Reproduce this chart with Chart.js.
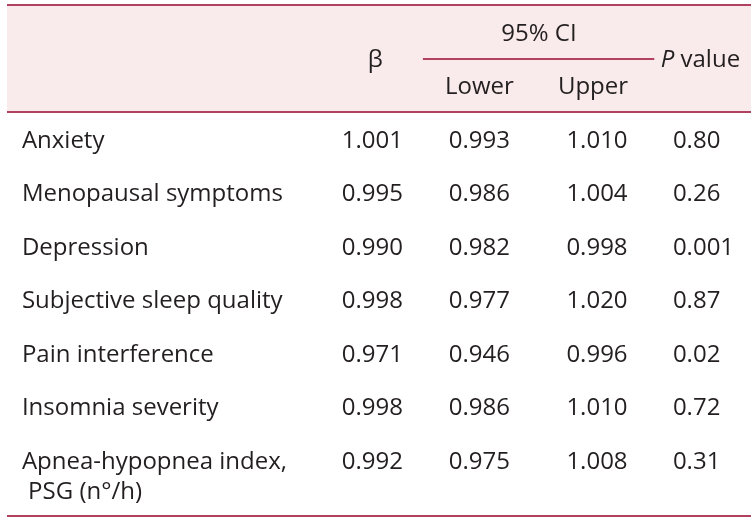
<!DOCTYPE html>
<html lang="en">
<head>
    <meta charset="UTF-8">
    <title>Beta and 95% CI table</title>
    <script src="https://cdn.jsdelivr.net/npm/chart.js"></script>
    <style>
        html, body { margin: 0; padding: 0; background: #fff; }
        #wrap { width: 756px; height: 520px; }
    </style>
</head>
<body>
    <div id="wrap"><canvas id="tableChart" width="756" height="520"></canvas></div>

    <script>
        // table content
        const rowLabels = ['Anxiety', 'Menopausal symptoms', 'Depression', 'Subjective sleep quality',
                           'Pain interference', 'Insomnia severity', 'Apnea-hypopnea index,\n PSG (n\u00b0/h)'];
        const beta  = [1.001, 0.995, 0.990, 0.998, 0.971, 0.998, 0.992];
        const lower = [0.993, 0.986, 0.982, 0.977, 0.946, 0.986, 0.975];
        const upper = [1.010, 1.004, 0.998, 1.020, 0.996, 1.010, 1.008];
        const pValues = ['0.80', '0.26', '0.001', '0.87', '0.02', '0.72', '0.31'];
        const headers = ['\u03b2', '95% CI', 'Lower', 'Upper', 'value'];

        // column anchors on a 0..1 x scale
        const col = { label: 0.020, beta: 0.491, lower: 0.635, upper: 0.793, p: 0.895, ci: 0.715, pHead: 0.932 };
        const TEXT = '#231f20';
        const RULE = '#b0415f';
        const FONT = '"Open Sans", "Noto Sans", sans-serif';
        const SIZE = 24;
        const DY = 2;

        function cellSet(name, values, x, align, fmt) {
            return {
                label: name,
                data: values.map((v, i) => ({ x: x, y: i, text: fmt(v) })),
                align: align,
                pointRadius: 0
            };
        }

        const datasets = [
            cellSet('label', rowLabels, col.label, 'left', v => v),
            cellSet('beta', beta, col.beta, 'center', v => v.toFixed(3)),
            cellSet('lower', lower, col.lower, 'center', v => v.toFixed(3)),
            cellSet('upper', upper, col.upper, 'center', v => v.toFixed(3)),
            cellSet('p', pValues, col.p, 'left', v => v)
        ];

        const tablePlugin = {
            id: 'tableDraw',
            beforeDatasetsDraw(chart) {
                const { ctx, chartArea, scales: { x, y } } = chart;
                ctx.save();
                // header background
                ctx.fillStyle = '#f9ebeb';
                ctx.fillRect(chartArea.left, y.getPixelForValue(-2.5), chartArea.width,
                             y.getPixelForValue(-0.5) - y.getPixelForValue(-2.5));
                // rules
                ctx.strokeStyle = RULE;
                ctx.lineWidth = 2;
                const hline = (val, x0, x1) => {
                    const py = Math.round(y.getPixelForValue(val));
                    ctx.beginPath();
                    ctx.moveTo(x.getPixelForValue(x0), py);
                    ctx.lineTo(x.getPixelForValue(x1), py);
                    ctx.stroke();
                };
                hline(-2.5, 0, 1);
                hline(-0.5, 0, 1);
                hline(-1.5, 0.559, 0.870);
                hline(7.05, 0, 1);

                // header text
                ctx.fillStyle = TEXT;
                ctx.font = SIZE + 'px ' + FONT;
                ctx.textBaseline = 'middle';
                ctx.textAlign = 'center';
                ctx.fillText(headers[0], x.getPixelForValue(col.beta) + 3, y.getPixelForValue(-1.5) + DY);
                ctx.fillText(headers[1], x.getPixelForValue(col.ci), y.getPixelForValue(-2) + DY);
                ctx.fillText(headers[2], x.getPixelForValue(col.lower), y.getPixelForValue(-1) + DY);
                ctx.fillText(headers[3], x.getPixelForValue(col.upper) - 4, y.getPixelForValue(-1) + DY);
                // "P value" centred on its anchor, P in italics
                ctx.textAlign = 'left';
                ctx.font = 'italic ' + SIZE + 'px ' + FONT;
                const pw = ctx.measureText('P ').width;
                ctx.font = SIZE + 'px ' + FONT;
                const vw = ctx.measureText(headers[4]).width;
                const px = x.getPixelForValue(col.pHead) - (pw + vw) / 2;
                ctx.font = 'italic ' + SIZE + 'px ' + FONT;
                ctx.fillText('P', px, y.getPixelForValue(-1.5) + DY);
                ctx.font = SIZE + 'px ' + FONT;
                ctx.fillText(headers[4], px + pw, y.getPixelForValue(-1.5) + DY);
                ctx.restore();
            },
            afterDatasetsDraw(chart) {
                const { ctx } = chart;
                ctx.save();
                ctx.fillStyle = TEXT;
                ctx.font = SIZE + 'px ' + FONT;
                ctx.textBaseline = 'middle';
                chart.data.datasets.forEach((ds, di) => {
                    const meta = chart.getDatasetMeta(di);
                    ctx.textAlign = ds.align;
                    meta.data.forEach((pt, i) => {
                        const lines = String(ds.data[i].text).split('\n');
                        lines.forEach((ln, k) => ctx.fillText(ln, pt.x, pt.y + DY + k * 30));
                    });
                });
                ctx.restore();
            }
        };

        new Chart(document.getElementById('tableChart').getContext('2d'), {
            type: 'scatter',
            data: { datasets: datasets },
            options: {
                responsive: false,
                animation: false,
                layout: { padding: { top: 5, bottom: 4, left: 7, right: 5 } },
                scales: {
                    x: { type: 'linear', min: 0, max: 1, display: false },
                    y: { type: 'linear', min: -2.5, max: 7.05, reverse: true, display: false }
                },
                plugins: { legend: { display: false }, tooltip: { enabled: false } }
            },
            plugins: [tablePlugin]
        });
    </script>
</body>
</html>
